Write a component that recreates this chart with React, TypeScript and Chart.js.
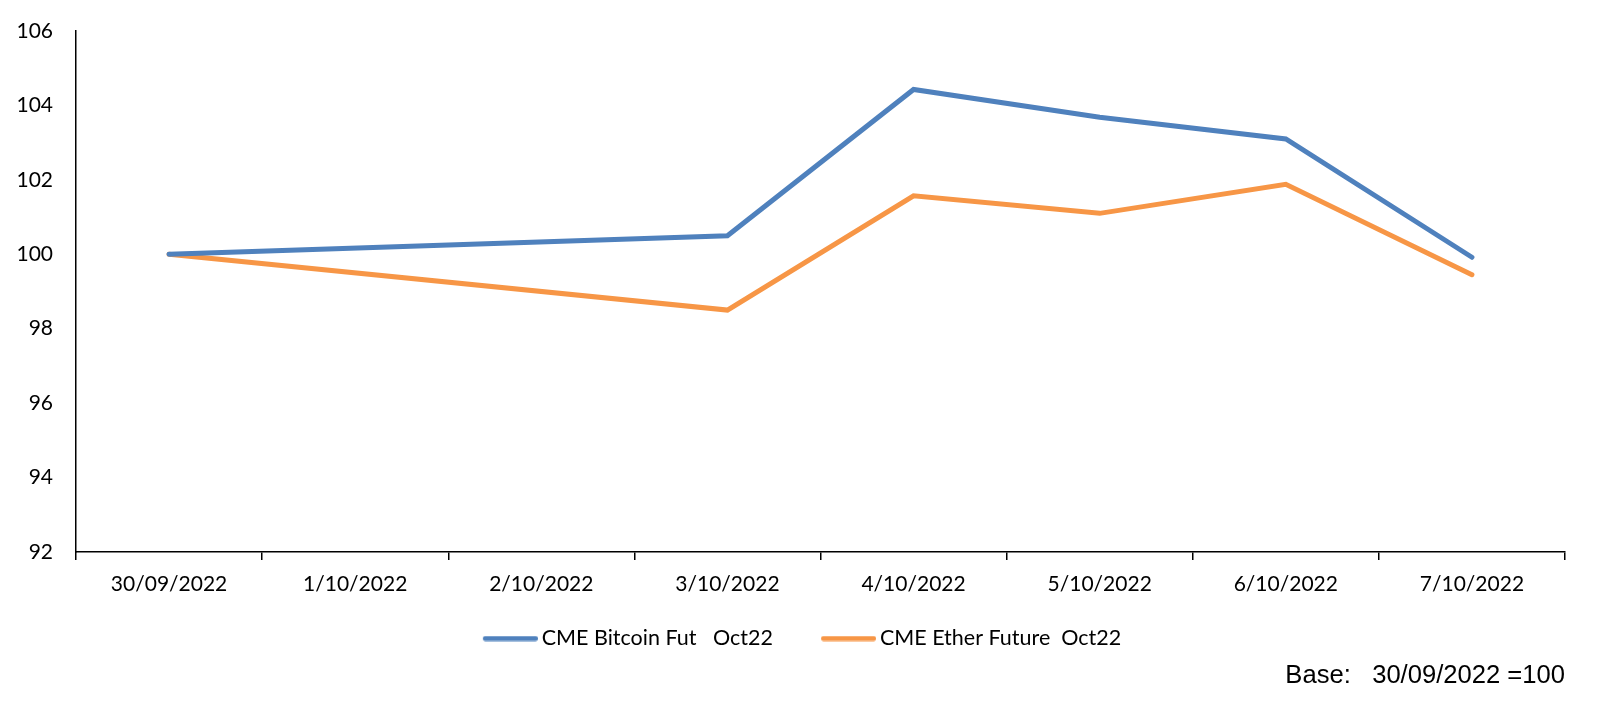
import React, { useEffect, useRef } from "react";
import { Chart, registerables } from "chart.js";

Chart.register(...registerables);

const categories = [
  "30/09/2022",
  "1/10/2022",
  "2/10/2022",
  "3/10/2022",
  "4/10/2022",
  "5/10/2022",
  "6/10/2022",
  "7/10/2022",
];

const bitcoinLabel = "CME Bitcoin Fut   Oct22";
const etherLabel = "CME Ether Future  Oct22";

const bitcoinValues = [100, null, null, 100.5, 104.43, 103.68, 103.1, 99.92];
const etherValues = [100, null, null, 98.5, 101.57, 101.1, 101.88, 99.45];

const yMin = 92;
const yMax = 106;
const yStep = 2;

const baseNote = "Base:   30/09/2022 =100";

const BLUE = "#4F81BD";
const ORANGE = "#F79646";
const FONT = "Lato, 'Open Sans', sans-serif";

// legend swatch: a short thick line, placed so that it sits just left of the label text
function legendLine(color: string): HTMLCanvasElement {
  const c = document.createElement("canvas");
  c.width = 101;
  c.height = 6;
  const ctx = c.getContext("2d");
  if (ctx) {
    ctx.strokeStyle = color;
    ctx.lineWidth = 5;
    ctx.lineCap = "round";
    ctx.beginPath();
    ctx.moveTo(48.5, 3);
    ctx.lineTo(98.5, 3);
    ctx.stroke();
  }
  return c;
}

export default function App() {
  const canvasRef = useRef<HTMLCanvasElement | null>(null);

  useEffect(() => {
    const canvas = canvasRef.current;
    if (!canvas) return;
    const legendImages = [legendLine(BLUE), legendLine(ORANGE)];
    const chart = new Chart(canvas, {
      type: "line",
      data: {
        labels: categories,
        datasets: [
          {
            label: bitcoinLabel,
            data: bitcoinValues,
            borderColor: BLUE,
            backgroundColor: BLUE,
            borderWidth: 5,
            pointRadius: 0,
            pointHoverRadius: 0,
            spanGaps: true,
            tension: 0,
            borderCapStyle: "round",
            borderJoinStyle: "miter",
          },
          {
            label: etherLabel,
            data: etherValues,
            borderColor: ORANGE,
            backgroundColor: ORANGE,
            borderWidth: 5,
            pointRadius: 0,
            pointHoverRadius: 0,
            spanGaps: true,
            tension: 0,
            borderCapStyle: "round",
            borderJoinStyle: "miter",
          },
        ],
      },
      options: {
        animation: false,
        responsive: false,
        maintainAspectRatio: false,
        layout: {
          padding: { left: 0, right: 34, top: 31, bottom: 31.15 },
        },
        scales: {
          x: {
            type: "category",
            offset: true,
            grid: {
              display: true,
              drawOnChartArea: false,
              drawTicks: true,
              tickLength: 8,
              color: "#000",
              lineWidth: 1.5,
              offset: true,
            },
            border: { display: true, color: "#000", width: 1.5 },
            ticks: {
              color: "#000",
              font: { family: FONT, size: 21 },
              padding: 12,
              maxRotation: 0,
              autoSkip: false,
            },
            afterFit: (scale: any) => {
              scale.height = 66.75;
            },
          },
          y: {
            min: yMin,
            max: yMax,
            grid: {
              display: true,
              drawOnChartArea: false,
              drawTicks: true,
              tickLength: 23,
              color: "rgba(0,0,0,0)",
            },
            border: { display: true, color: "#000", width: 1.5 },
            ticks: {
              stepSize: yStep,
              color: "#000",
              font: { family: FONT, size: 21 },
              padding: 0,
            },
            afterFit: (scale: any) => {
              scale.width = 76;
            },
          },
        },
        plugins: {
          legend: {
            display: true,
            position: "bottom",
            labels: {
              color: "#000",
              font: { family: FONT, size: 21.5 },
              usePointStyle: true,
              pointStyleWidth: 87.25,
              boxHeight: 5,
              padding: 9,
              generateLabels: (ch: any) => {
                const items = Chart.defaults.plugins.legend.labels.generateLabels(ch);
                return items.map((it: any, i: number) => ({
                  ...it,
                  pointStyle: legendImages[i % legendImages.length],
                  lineWidth: 0,
                }));
              },
            },
          },
          subtitle: {
            display: true,
            text: baseNote,
            position: "bottom",
            align: "end",
            color: "#000",
            font: { family: "'Liberation Sans', Arial, sans-serif", size: 25.6, lineHeight: 1, weight: "normal" },
            padding: { top: 4, bottom: 0 },
          },
          title: { display: false },
          tooltip: { enabled: false },
        },
      },
    });
    return () => chart.destroy();
  }, []);

  return (
    <div style={{ position: "fixed", left: 0, top: 0, width: 1599, height: 720, background: "#fff" }}>
      <canvas ref={canvasRef} width={1599} height={720} style={{ width: 1599, height: 720, display: "block" }} />
    </div>
  );
}
